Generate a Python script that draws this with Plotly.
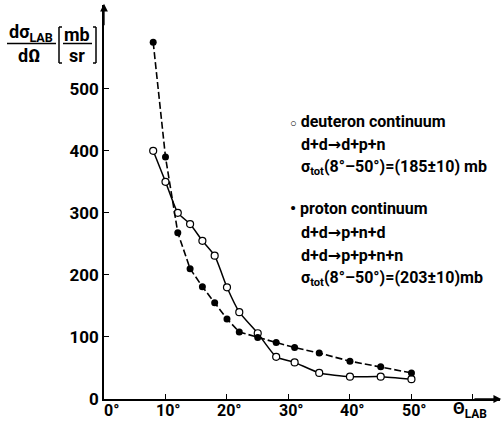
import plotly.graph_objects as go

# Data
deut_theta = [8, 10, 12, 14, 16, 18, 20, 22, 25, 28, 31, 35, 40, 45, 50]
deut_xs = [400, 350, 300, 282, 255, 231, 180, 140, 106, 68, 59, 42, 36, 36, 32]
prot_theta = [8, 10, 12, 14, 16, 18, 20, 22, 25, 28, 31, 35, 40, 45, 50]
prot_xs = [575, 390, 268, 210, 181, 155, 129, 108, 99, 91, 83, 74, 61, 52, 42]

x_ticks = [0, 10, 20, 30, 40, 50, 60]
x_ticktext = ["0°", "10°", "20°", "30°", "40°", "50°", ""]
y_ticks = [0, 100, 200, 300, 400, 500]
y_ticktext = ["0", "100", "200", "300", "400", "500"]

W, H = 503, 424
ML, MR, MT, MB = 104, 3, 5, 25
PW, PH = W - ML - MR, H - MT - MB

FONT = "Roboto, Liberation Sans, sans-serif"
ARROW = "<span style='font-family:DejaVu Sans'>→</span>"


def px(xpix):
    return (xpix - ML) / PW


def py(ypix):
    return (H - MB - ypix) / PH


fig = go.Figure()

fig.add_trace(go.Scatter(
    x=deut_theta, y=deut_xs, mode="lines+markers",
    line=dict(color="black", width=1.5, shape="spline", smoothing=0.5),
    marker=dict(symbol="circle", size=7, color="white",
                line=dict(color="black", width=1.2)),
    cliponaxis=False, showlegend=False,
))
fig.add_trace(go.Scatter(
    x=prot_theta, y=prot_xs, mode="lines+markers",
    line=dict(color="black", width=1.6, dash="7px,3px"),
    marker=dict(symbol="circle", size=7, color="black"),
    cliponaxis=False, showlegend=False,
))

fig.update_xaxes(
    range=[0, 64.4], tickvals=x_ticks, showticklabels=False,
    ticks="inside", ticklen=5, tickwidth=1.2, tickcolor="black",
    showline=True, linecolor="black", linewidth=1.5, showgrid=False,
    zeroline=False,
)
fig.update_yaxes(
    range=[0, 635], tickvals=y_ticks, ticktext=y_ticktext,
    ticks="inside", ticklen=5, tickwidth=1.2, tickcolor="black",
    showline=True, linecolor="black", linewidth=1.5, showgrid=False,
    zeroline=False,
    tickfont=dict(family=FONT, size=17, color="black", weight="bold"),
)

anns = []
# x tick labels (placed just under the axis)
for v, t in zip(x_ticks, x_ticktext):
    if t:
        anns.append(dict(x=v, y=py(410), xref="x", yref="paper", text=t,
                         showarrow=False, xanchor="center", yanchor="middle",
                         xshift=7 if v == 0 else 3, borderpad=0,
                         font=dict(family=FONT, size=16, color="black", weight="bold")))

# axis arrows
anns.append(dict(x=64.6, y=0, ax=60, ay=0, xref="x", yref="y", axref="x", ayref="y",
                 text="", showarrow=True, arrowhead=2, arrowsize=1.2, arrowwidth=1.3,
                 arrowcolor="black"))
anns.append(dict(x=0, y=637, ax=0, ay=600, xref="x", yref="y", axref="x", ayref="y",
                 text="", showarrow=True, arrowhead=2, arrowsize=1.2, arrowwidth=1.3,
                 arrowcolor="black"))

def txt(xpix, ypix, s, size=16, anchor="left"):
    anns.append(dict(x=px(xpix), y=py(ypix), xref="paper", yref="paper",
                     text=s, showarrow=False, xanchor=anchor, yanchor="middle",
                     borderpad=0,
                     font=dict(family=FONT, size=size, color="black", weight="bold")))

# x axis label
txt(470, 409, "Θ<sub>LAB</sub>", size=17, anchor="center")

# y axis label (fraction)
txt(31, 33, "dσ<sub>LAB</sub>", size=18, anchor="center")
txt(29, 55, "dΩ", size=18, anchor="center")
txt(77, 34, "mb", size=18, anchor="center")
txt(77, 55, "sr", size=18, anchor="center")

# legend block
txt(289, 122, "<span style='font-size:11px'>○</span> deuteron continuum")
txt(300, 145, "d+d" + ARROW + "d+p+n")
txt(300, 168, "σ<sub>tot</sub>(8°–50°)=(185±10) mb")
txt(289, 208, "<span style='font-size:17px'>•</span> proton continuum")
txt(300, 232, "d+d" + ARROW + "p+n+d")
txt(300, 255, "d+d" + ARROW + "p+p+n+n")
txt(300, 278, "σ<sub>tot</sub>(8°–50°)=(203±10)mb")

shapes = []
def seg(x0, y0, x1, y1, w=1.5):
    shapes.append(dict(type="line", xref="paper", yref="paper",
                       x0=px(x0), y0=py(y0), x1=px(x1), y1=py(y1),
                       line=dict(color="black", width=w)))

# fraction bars
seg(7, 43.5, 56, 43.5)
seg(63, 43.5, 92, 43.5)
# brackets
seg(59, 27, 59, 63)
seg(59, 27, 62, 27)
seg(59, 63, 62, 63)
seg(96, 27, 96, 63)
seg(93, 27, 96, 27)
seg(93, 63, 96, 63)

fig.update_layout(
    width=W, height=H,
    margin=dict(l=ML, r=MR, t=MT, b=MB),
    paper_bgcolor="white", plot_bgcolor="white",
    annotations=anns, shapes=shapes,
    font=dict(family=FONT, color="black"),
)

fig.write_html(
    "out.html",
    config={"displayModeBar": False},
    post_script="document.body.style.margin='0';document.body.style.overflow='hidden';",
)
